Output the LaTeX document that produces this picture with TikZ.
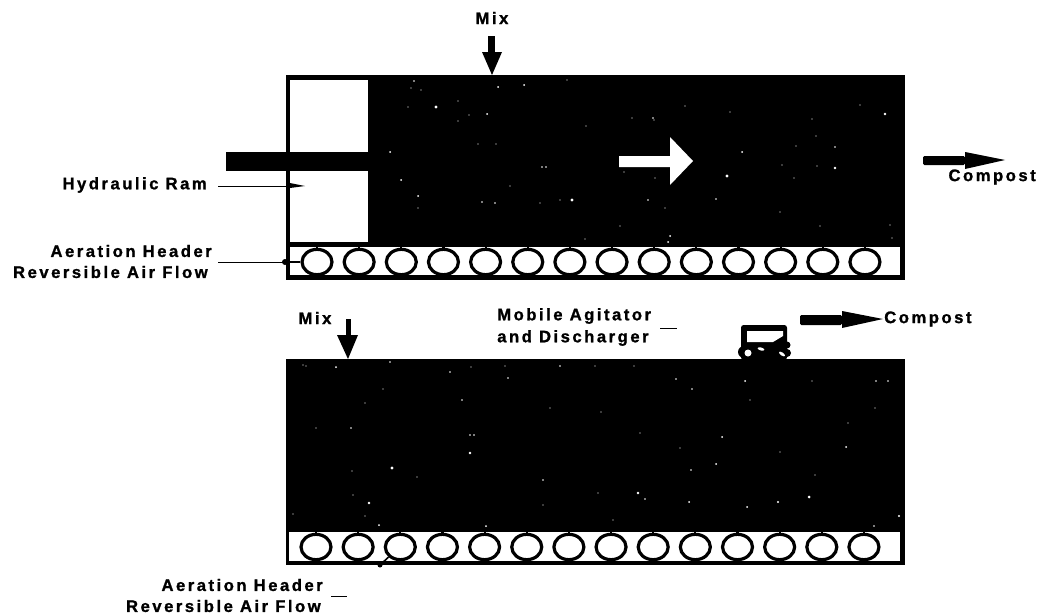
\documentclass[tikz,border=0pt]{standalone}
\usepackage{fontspec}
\setmainfont{Liberation Sans}[LetterSpace=15,BoldFeatures={FakeBold=1.2}]
\usetikzlibrary{shapes.geometric}
\tikzset{
  x=0.75pt,y=-0.75pt,
  lab/.style={font=\fontsize{12.5}{14}\selectfont\bfseries,inner sep=0pt,text=black},
  leader/.style={draw=black,line width=0.6pt},
  pipe/.style={draw=black,line width=2.4pt,fill=white,ellipse,minimum width=22.5pt,minimum height=19pt,inner sep=0pt},
  stem/.style={draw=black,line width=1.6pt},
  speck/.style={fill=white,draw=none},
}
\begin{document}
\begin{tikzpicture}
\useasboundingbox (0,0) rectangle (1040,614);
% top bed
\fill[black] (286,75) rectangle (905,280);
\fill[white] (290,80) rectangle (368,242);
\fill[white] (290,247) rectangle (900,275);
\fill[black] (226,152) rectangle (368,171);
\foreach \x/\y/\r in {436/107/1.6,487/114/1,390/152/1,401/180/1,418/196/1,498/87/1,414/81/.8,411/88/.6,421/90/.6,
  408/107/.6,458/101/.6,458/121/.7,469/115/.6,478/144/.6,496/144/.6,510/186/.6,482/202/.8,495/203/.8,418/208/.7,
  524/85/1,567/80/.7,653/118/.9,685/106/.7,542/167/.8,546/167/.8,572/200/1.7,560/200/.7,727/176/1.6,742/152/1,
  835/147/.9,835/168/1.4,885/114/1.3,654/120/.6,632/118/.6,586/126/.6,730/112/.6,860/105/.6,812/119/.7,
  796/146/.7,782/165/.7,794/178/.7,816/136/.7,817/166/.6,668/242/1,670/236/1,716/199/.8,648/200/.8,665/208/.6,
  624/172/.6,655/178/.6,540/203/.6,890/225/.7,892/238/.6,780/212/.6,820/226/.6,620/226/.6,585/239/.6}
  \fill[speck] (\x,\y) circle (\r);
\foreach \i in {0,...,13} {
  \node[pipe] (a\i) at ({317+42.15*\i},262) {};
  \draw[stem] (a\i.north) -- ++(0,-3);
  \draw[stem] (a\i.south) -- ++(0,3);
}
\fill[white] (619,156) -- (670,156) -- (670,137) -- (693,161) -- (670,185) -- (670,167) -- (619,167) -- cycle;
\node[lab] (mix1) at (492,18) {Mix};
\node[lab,anchor=east] (ram) at (207,185) {Hydraulic Ram};
\node[lab,anchor=east] (hdr1) at (212,251) {Aeration Header};
\node[lab,anchor=east] (rev1) at (208,272) {Reversible Air Flow};
\node[lab,anchor=east] (comp1) at (1036,177) {Compost};
\coordinate (ramend) at (286,186);
\coordinate (hdrdot) at (285,262);
\draw[leader] (ram.east |- ramend) ++(11,0) -- (ramend);
\fill[black] (290,183) -- (305,186) -- (290,188) -- cycle;
\draw[leader] (218,262) -- (hdrdot);
\fill[black] (hdrdot) circle (3);
\draw[black,line width=1.2pt] (hdrdot) -- (a0.west);
\fill[black] (488,36) rectangle (495,52);
\fill[black] (482,52) -- (502,52) -- (492,75) -- cycle;
\fill[black,rounded corners=1pt] (923,156) rectangle (965,165);
\fill[black] (965,152) -- (1005,160) -- (965,169) -- cycle;
% bottom bed
\fill[black] (286,359) rectangle (905,565);
\fill[white] (289,532) rectangle (900,561);
\foreach \x/\y/\r in {303/365/.7,306/366/.7,336/367/1,390/362/.8,450/372/.9,471/367/.7,508/378/.8,383/389/.7,365/403/.7,
  392/468/1.6,470/453/1.4,369/503/1.3,638/493/1.3,470/435/.9,474/435/.9,351/428/.8,316/428/.7,379/525/1,486/526/1,
  543/480/.8,462/400/.8,722/437/1,716/464/1,691/470/.9,689/502/1,778/502/1.2,747/507/1,809/497/1.5,846/447/1,
  899/516/1.2,874/526/.9,598/493/.7,645/499/.8,601/412/.6,680/448/.6,640/433/.6,505/366/.7,560/366/.8,595/366/.7,
  634/366/.7,676/379/.8,692/389/.8,745/381/1,876/381/.8,888/381/.8,812/381/.6,352/471/.6,417/477/.6,365/516/.6,
  293/514/.7,353/495/.6,543/505/.6,613/520/.7,550/408/.6,848/423/.7,815/475/.6,875/408/.6,780/452/.6,750/400/.6}
  \fill[speck] (\x,\y) circle (\r);
\foreach \i in {0,...,13} {
  \node[pipe] (b\i) at ({316+42.15*\i},547) {};
  \draw[stem] (b\i.north) -- ++(0,-3);
  \draw[stem] (b\i.south) -- ++(0,3);
}
\node[lab] (mix2) at (315,318) {Mix};
\node[lab,anchor=west] (mob) at (497,316) {Mobile Agitator};
\node[lab,anchor=west] (dis) at (497,338) {and Discharger};
\node[lab,anchor=west] (comp2) at (884,319) {Compost};
\node[lab,anchor=east] (hdr2) at (323,585) {Aeration Header};
\node[lab,anchor=east] (rev2) at (321,606) {Reversible Air Flow};
\draw[leader] (660,328) -- (677,328);
\draw[leader] (331,596) -- (347,596);
\fill[black] (346,319) rectangle (351,335);
\fill[black] (337,335) -- (358,335) -- (348,359) -- cycle;
\fill[black,rounded corners=1pt] (800,315) rectangle (842,325);
\fill[black] (842,311) -- (883,319) -- (842,328) -- cycle;
\fill[black] (380,565) circle (2.5);
\draw[black,line width=1.2pt] (380,565) -- (b2.south west);
% agitator
\fill[black,rounded corners=2pt] (741,325) rectangle (787,360);
\fill[black] (744,352) circle (6);
\fill[black] (787,345) circle (3.5);
\fill[black] (787,353) circle (4);
\fill[white] (747,331) -- (783,331) -- (783,336) -- (773,342) -- (747,342) -- cycle;
\fill[white] (748,353) circle (3.5);
\fill[white,rotate around={-15:(761,349)}] (761,349) ellipse (3.5 and 1.5);
\fill[white,rotate around={-35:(782,354)}] (782,354) ellipse (3.5 and 1.5);
\end{tikzpicture}
\end{document}
